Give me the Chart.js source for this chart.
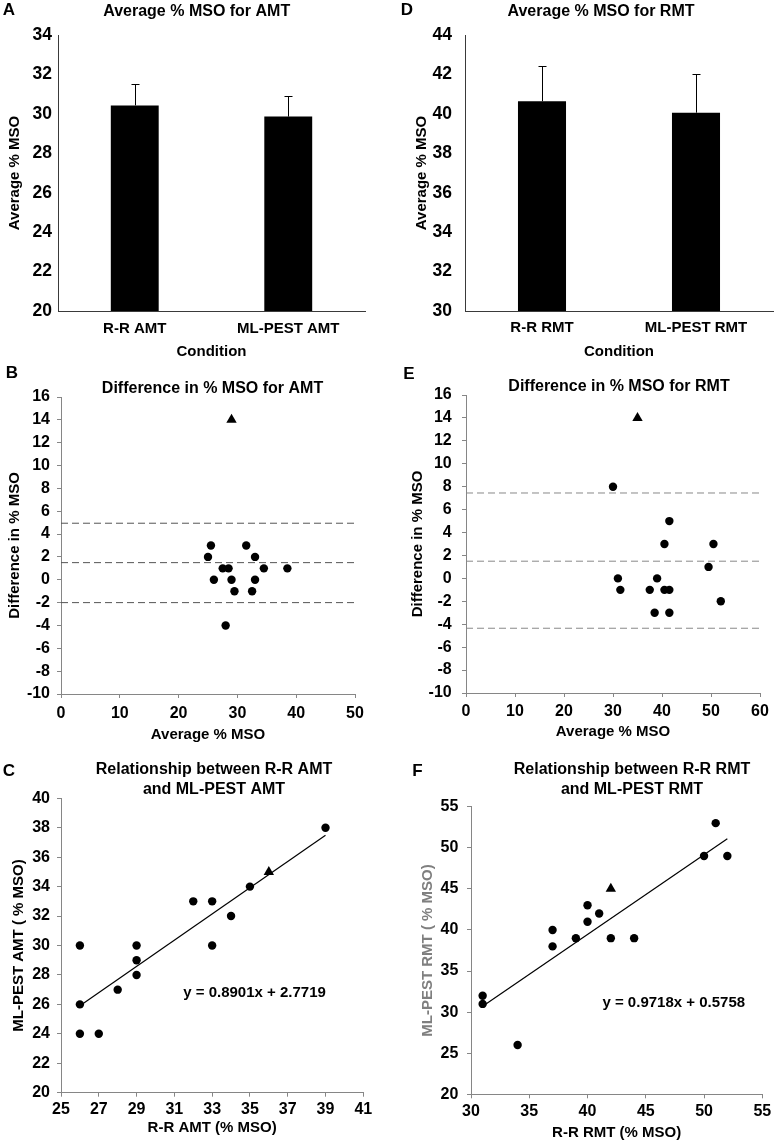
<!DOCTYPE html>
<html>
<head>
<meta charset="utf-8">
<title>R-R vs ML-PEST thresholds</title>
<script src="https://cdn.jsdelivr.net/npm/chart.js@4.4.0/dist/chart.umd.min.js"></script>
<style>
  html, body { margin: 0; padding: 0; background: #fff; overflow: hidden; }
  #page { position: relative; width: 775px; height: 1144px; overflow: hidden; background: #fff; }
  canvas { position: absolute; }
</style>
</head>
<body>
<div id="page">
  <canvas id="chartA" width="380" height="362" style="left:0;top:0"></canvas>
  <canvas id="chartD" width="385" height="362" style="left:390px;top:0"></canvas>
  <canvas id="chartB" width="390" height="382" style="left:0;top:362px"></canvas>
  <canvas id="chartE" width="385" height="382" style="left:390px;top:362px"></canvas>
  <canvas id="chartC" width="390" height="400" style="left:0;top:744px"></canvas>
  <canvas id="chartF" width="385" height="400" style="left:390px;top:744px"></canvas>
</div>
<script>
// A / D: average threshold per condition (+ error)
const amtConditions = ["R-R AMT", "ML-PEST AMT"]
const amtMeans = [30.43, 29.86]
const amtErrors = [1.07, 1.06]
const rmtConditions = ["R-R RMT", "ML-PEST RMT"]
const rmtMeans = [40.64, 40.06]
const rmtErrors = [1.80, 1.96]

// B: difference vs average, AMT
const amtAvg = [25, 25.5, 26, 27.5, 28, 28.5, 29, 29.5, 31.5, 32.5, 33, 33, 34.5, 38.5]
const amtDiff = [2, 3, 0, 1, -4, 1, 0, -1, 3, -1, 2, 0, 1, 1]
const amtOutAvg = [29]
const amtOutDiff = [14]
const amtLimits = [4.95, 1.5, -2.0]

// E: difference vs average, RMT
const rmtAvg = [30, 31, 31.5, 37.5, 38.5, 39, 40.5, 40.5, 41.5, 41.5, 41.5, 49.5, 50.5, 52]
const rmtDiff = [8, 0, -1, -1, -3, 0, 3, -1, 5, -1, -3, 1, 3, -2]
const rmtOutAvg = [35]
const rmtOutDiff = [14]
const rmtLimits = [7.45, 1.5, -4.35]

// C: R-R AMT vs ML-PEST AMT
const amtRR = [26, 26, 26, 27, 28, 29, 29, 29, 32, 33, 33, 34, 35, 39]
const amtPest = [30, 26, 24, 24, 27, 30, 29, 28, 33, 33, 30, 32, 34, 38]
const amtOutRR = [36]
const amtOutPest = [35]
const amtSlope = 0.8901
const amtIntercept = 2.7719
const amtFitRange = [26, 39]

// F: R-R RMT vs ML-PEST RMT
const rmtRR = [31, 31, 34, 37, 37, 39, 40, 40, 41, 42, 44, 50, 51, 52]
const rmtPest = [32, 31, 26, 40, 38, 39, 43, 41, 42, 39, 39, 49, 53, 49]
const rmtOutRR = [42]
const rmtOutPest = [45]
const rmtSlope = 0.9718
const rmtIntercept = 0.5758
const rmtFitRange = [31, 52]

const FONT = "'Liberation Sans', Arial, Helvetica, sans-serif"
Chart.defaults.font.family = FONT
Chart.defaults.font.weight = 'bold'
Chart.defaults.color = '#000'
Chart.defaults.animation = false
Chart.defaults.events = []
Chart.defaults.plugins.legend.display = false
Chart.defaults.plugins.tooltip.enabled = false

// panel heading + corner letter (the built-in title can't be offset from the canvas centre)
const heading = {
    id: 'heading',
    afterDraw(chart, args, opts){
        if (!opts || !opts.lines) return
        const ctx = chart.ctx
        ctx.save()
        ctx.fillStyle = '#000'
        ctx.textBaseline = 'middle'
        ctx.textAlign = 'center'
        ctx.font = "bold 16px " + FONT
        opts.lines.forEach((t, i)=>ctx.fillText(t, opts.x, opts.y + i * (opts.gap || 20)))
        if (opts.letter){
            ctx.font = "bold 17px " + FONT
            ctx.fillText(opts.letter.text, opts.letter.x, opts.letter.y)
        }
        ctx.restore()
    }
}

// one-sided error bars on the bar panels
const errorBars = {
    id: 'errorBars',
    afterDatasetsDraw(chart){
        const ds = chart.data.datasets[0]
        if (!ds || !ds.errors) return
        const y = chart.scales.y
        const ctx = chart.ctx
        ctx.save()
        ctx.strokeStyle = '#000'
        ctx.lineWidth = 1
        chart.getDatasetMeta(0).data.forEach((bar, i)=>{
            const x = Math.round(bar.x) + 0.5
            const from = y.getPixelForValue(ds.data[i])
            const to = Math.round(y.getPixelForValue(ds.data[i] + ds.errors[i])) + 0.5
            ctx.beginPath()
            ctx.moveTo(x, from)
            ctx.lineTo(x, to)
            ctx.moveTo(x - 4, to)
            ctx.lineTo(x + 4, to)
            ctx.stroke()
        })
        ctx.restore()
    }
}

// regression equation, anchored in data units
const fitLabel = {
    id: 'fitLabel',
    afterDatasetsDraw(chart, args, opts){
        if (!opts || !opts.text) return
        const {ctx, scales: {x, y}} = chart
        ctx.save()
        ctx.font = "bold 15px " + FONT
        ctx.fillStyle = '#000'
        ctx.textAlign = 'left'
        ctx.textBaseline = 'middle'
        ctx.fillText(opts.text, x.getPixelForValue(opts.x), y.getPixelForValue(opts.y))
        ctx.restore()
    }
}

Chart.register(heading, errorBars, fitLabel)

function barPanel(id, labels, means, errors, cfg){
    return new Chart(document.getElementById(id), {
        type: 'bar',
        data: {
            labels: labels,
            datasets: [{
                data: means,
                errors: errors,
                backgroundColor: '#000',
                borderWidth: 0,
                barPercentage: 0.312,
                categoryPercentage: 1,
            }]
        },
        options: {
            responsive: false,
            layout: { padding: { top: cfg.top, left: 0, bottom: 0, right: cfg.padRight } },
            plugins: { heading: cfg.heading },
            scales: {
                x: {
                    grid: { display: false, drawTicks: false },
                    border: { color: '#3a3a3a' },
                    ticks: { font: { size: 15 }, padding: cfg.xTickPad },
                    title: { display: true, text: 'Condition', font: { size: 15 }, padding: { top: 0, bottom: 1 } },
                    afterFit: s => { s.height = cfg.xHeight },
                },
                y: {
                    min: cfg.yMin, max: cfg.yMax,
                    grid: { display: false, drawTicks: false },
                    border: { color: '#3a3a3a' },
                    ticks: { stepSize: 2, font: { size: 17.5 }, padding: cfg.yTickPad },
                    title: { display: true, text: 'Average % MSO', font: { size: 15 }, padding: { top: cfg.yTitlePad, bottom: 0 } },
                    afterFit: s => { s.width = cfg.yWidth },
                }
            }
        }
    })
}

const dots = (xs, ys)=>({
    data: xs.map((x, i)=>({ x: x, y: ys[i] })),
    pointStyle: 'circle', pointRadius: 4.2, backgroundColor: '#000', borderWidth: 0,
})
const triangles = (xs, ys)=>({
    data: xs.map((x, i)=>({ x: x, y: ys[i] })),
    pointStyle: 'triangle', pointRadius: 6, backgroundColor: '#000', borderColor: '#000', borderWidth: 0,
})
const hLine = (v, xMin, xMax, color)=>({
    data: [{ x: xMin, y: v }, { x: xMax, y: v }],
    showLine: true, pointRadius: 0, borderColor: color, borderWidth: 1, borderDash: [7, 4],
})
const fitLine = (slope, intercept, range)=>({
    data: range.map(x=>({ x: x, y: slope * x + intercept })),
    showLine: true, pointRadius: 0, borderColor: '#000', borderWidth: 1.2,
})

function axis(a, pos){
    const o = {
        type: 'linear',
        min: a.min, max: a.max,
        grid: { display: true, drawOnChartArea: false, drawTicks: true, tickLength: 4, color: '#868686' },
        border: { color: '#868686' },
        ticks: { stepSize: a.step, maxTicksLimit: 40, font: { size: 16 }, padding: a.tickPad },
        title: { display: true, text: a.title, color: a.titleColor || '#000', font: { size: 15 } },
    }
    if (pos === 'x'){
        o.title.padding = { top: 0, bottom: a.titlePad }
        o.afterFit = s => { s.height = a.height }
    } else {
        o.title.padding = { top: a.titlePad, bottom: 0 }
        o.afterFit = s => { s.width = a.width }
    }
    return o
}

function scatterPanel(id, cfg){
    return new Chart(document.getElementById(id), {
        type: 'scatter',
        data: { datasets: cfg.datasets },
        options: {
            responsive: false,
            layout: { padding: { top: cfg.top, left: 0, bottom: 0, right: cfg.padRight } },
            plugins: {
                heading: cfg.heading,
                fitLabel: cfg.fitLabel || {},
            },
            scales: { x: axis(cfg.x, 'x'), y: axis(cfg.y, 'y') }
        }
    })
}

barPanel('chartA', amtConditions, amtMeans, amtErrors, {
    heading: { lines: ['Average % MSO for AMT'], x: 196.7, y: 12, letter: { text: 'A', x: 9, y: 10 } },
    top: 35, padRight: 15, yMin: 20, yMax: 34,
    yWidth: 58, yTickPad: 6, yTitlePad: 6,
    xHeight: 51, xTickPad: 9,
})

barPanel('chartD', rmtConditions, rmtMeans, rmtErrors, {
    heading: { lines: ['Average % MSO for RMT'], x: 211, y: 11.7, letter: { text: 'D', x: 17, y: 10 } },
    top: 35, padRight: 2, yMin: 30, yMax: 44,
    yWidth: 75, yTickPad: 13, yTitlePad: 22.7,
    xHeight: 51, xTickPad: 8.3,
})

scatterPanel('chartB', {
    heading: { lines: ['Difference in % MSO for AMT'], x: 212.5, y: 27, letter: { text: 'B', x: 12, y: 11 } },
    top: 35, padRight: 35,
    x: { min: 0, max: 50, step: 10, title: 'Average % MSO', tickPad: 5.7, titlePad: 0, height: 50 },
    y: { min: -10, max: 16, step: 2, title: 'Difference in % MSO', tickPad: 7, titlePad: 6, width: 61 },
    datasets: [
        dots(amtAvg, amtDiff),
        triangles(amtOutAvg, amtOutDiff),
        ...amtLimits.map(v=>hLine(v, 0, 50, '#555')),
    ]
})

scatterPanel('chartE', {
    heading: { lines: ['Difference in % MSO for RMT'], x: 229, y: 24.7, letter: { text: 'E', x: 19, y: 12 } },
    top: 33, padRight: 15,
    x: { min: 0, max: 60, step: 10, title: 'Average % MSO', tickPad: 5.1, titlePad: 3.3, height: 51 },
    y: { min: -10, max: 16, step: 2, title: 'Difference in % MSO', tickPad: 10.3, titlePad: 19.3, width: 76 },
    datasets: [
        dots(rmtAvg, rmtDiff),
        triangles(rmtOutAvg, rmtOutDiff),
        ...rmtLimits.map(v=>hLine(v, 0, 60, '#888')),
    ]
})

scatterPanel('chartC', {
    heading: { lines: ['Relationship between R-R AMT', 'and ML-PEST AMT'], x: 214, y: 25.3, gap: 20, letter: { text: 'C', x: 9, y: 27 } },
    top: 54.3, padRight: 26.7,
    x: { min: 25, max: 41, step: 2, title: 'R-R AMT (% MSO)', tickPad: 3.7, titlePad: 6.7, height: 51.3 },
    y: { min: 20, max: 40, step: 2, title: 'ML-PEST AMT ( % MSO)', tickPad: 7, titlePad: 10, width: 61 },
    fitLabel: { text: 'y = ' + amtSlope + 'x + ' + amtIntercept, x: 31.47, y: 26.75 },
    datasets: [
        dots(amtRR, amtPest),
        triangles(amtOutRR, amtOutPest),
        fitLine(amtSlope, amtIntercept, amtFitRange),
    ]
})

scatterPanel('chartF', {
    heading: { lines: ['Relationship between R-R RMT', 'and ML-PEST RMT'], x: 242, y: 26, gap: 20, letter: { text: 'F', x: 27.5, y: 27 } },
    top: 62.7, padRight: 10.7,
    x: { min: 30, max: 55, step: 5, title: 'R-R RMT (% MSO)', tickPad: 3.8, titlePad: 1.7, height: 49.7 },
    y: { min: 20, max: 55, step: 5, title: 'ML-PEST RMT ( % MSO)', titleColor: '#7f7f7f', tickPad: 8.7, titlePad: 29.3, width: 81 },
    fitLabel: { text: 'y = ' + rmtSlope + 'x + ' + rmtIntercept, x: 41.28, y: 31.16 },
    datasets: [
        dots(rmtRR, rmtPest),
        triangles(rmtOutRR, rmtOutPest),
        fitLine(rmtSlope, rmtIntercept, rmtFitRange),
    ]
})
</script>
</body>
</html>
